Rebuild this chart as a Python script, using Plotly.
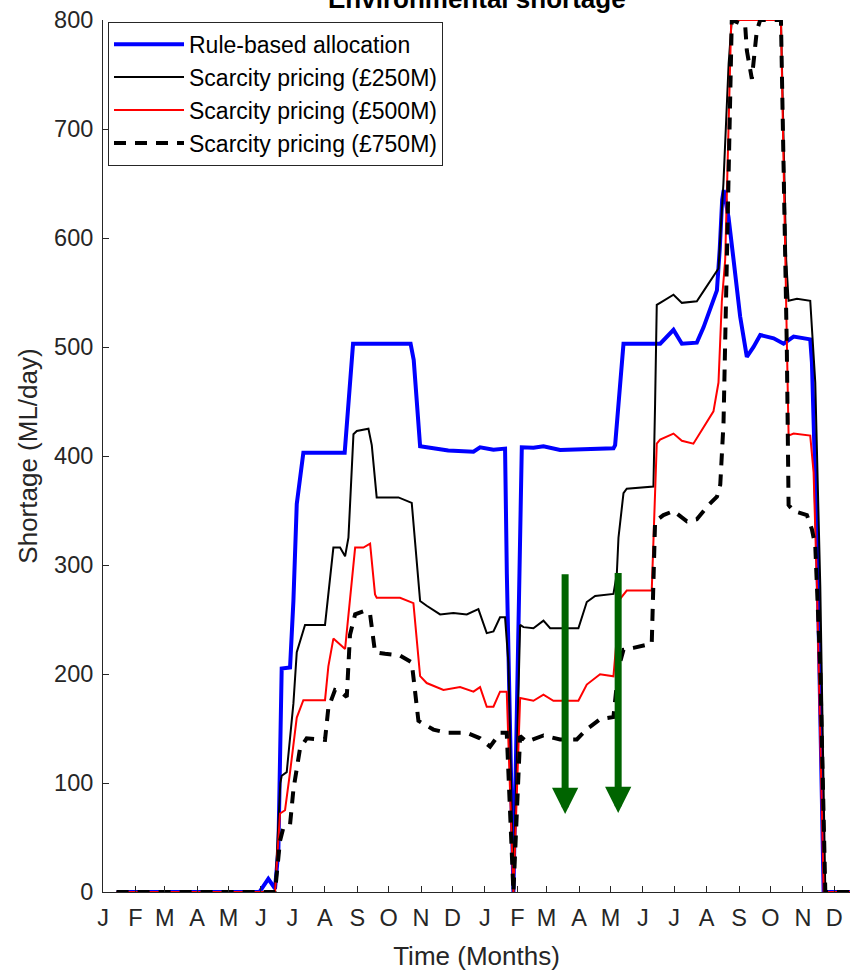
import plotly.graph_objects as go

# ---- Data (x in days from 1 January of year 1, y in ML/day) ----
month_days = [0, 31, 59, 90, 120, 151, 181, 212, 243, 273, 304, 334,
              365, 396, 424, 455, 485, 516, 546, 577, 608, 638, 669, 699]
month_labels = ["J", "F", "M", "A", "M", "J", "J", "A", "S", "O", "N", "D",
                "J", "F", "M", "A", "M", "J", "J", "A", "S", "O", "N", "D"]
y_ticks = [0, 100, 200, 300, 400, 500, 600, 700, 800]

rule_x = [13, 149.5, 158, 161.2, 164.4, 167.6, 170.8, 178.8, 182, 185.2, 191.5, 231, 235, 239,
          294, 297, 303.1, 330, 354.1, 360.4, 373.2, 384.3, 386, 392.3, 397.1, 400.3, 411.4,
          421, 436.9, 487.9, 489.5, 494.3, 497.5, 532.6, 545.3, 553.3, 567.6, 574, 580.4,
          586.8, 589.5, 591.8, 593.3, 597.9, 602.7, 609, 615.4, 621.8, 628.2, 641, 650.5,
          660.1, 676, 677.6, 682.4, 688.8, 714]
rule_y = [0, 0, 12, 8, 3, 38, 205, 206, 267, 356, 403, 403, 450, 503,
          503, 488, 409, 405, 404, 408, 405.7, 406.8, 292, 0, 243, 408, 407.5,
          409, 405.5, 407, 410, 467, 503, 503, 515.7, 503, 504, 518, 535,
          552, 590, 635, 644, 619, 580, 528, 491, 500, 511, 508, 503,
          509.5, 507, 486, 325, 0, 0]

p250_x = [13, 164.4, 169.5, 170.8, 175.6, 182, 185.2, 193.1, 212.2, 217, 220.2, 226.6, 231.4,
          234.6, 239.4, 242.6, 253.7, 256.9, 261.6, 282.4, 290.3, 295.1, 303.1, 309.4, 322.2,
          334.9, 347.7, 358.8, 366.8, 373.2, 379.5, 384.3, 387.5, 392.3, 398.7, 401.9, 411.4,
          421, 427.4, 454.4, 462.4, 470.4, 487.9, 491.1, 492.7, 497.5, 500.6, 526.1, 527.7,
          529.3, 532.5, 545.3, 553.3, 567.6, 575.6, 583.5, 588.3, 593, 598, 601, 648, 653,
          655.3, 663.3, 676, 680.8, 685.6, 690.4, 714]
p250_y = [0, 0, 100, 106.6, 110, 173, 220, 245, 245, 286, 316, 316, 308,
          325, 420, 423, 425, 410, 362, 362, 359, 357, 267, 262.6, 254.7,
          256, 254.7, 259.5, 237.5, 239, 252, 252, 210, 0, 245, 243, 242,
          249, 242, 242, 266, 271.6, 273.5, 291.5, 325, 366, 370, 372, 448,
          538.6, 540.5, 548, 540.5, 542, 553.6, 564.8, 572, 650, 760, 800, 800, 580,
          542.4, 544.2, 542.4, 467.5, 280, 0, 0]

p500_x = [13, 164.4, 169.2, 174, 178.8, 185.2, 191.5, 212.2, 215.4, 220.2, 231.4, 236.1, 241,
          248.9, 255.3, 260, 261.6, 283.9, 296.7, 303.1, 309.4, 325.4, 341.3, 354.1, 360.4,
          366.8, 373.2, 379.5, 385.9, 392.3, 398.7, 411.4, 421, 430.5, 454.4, 462.4, 475.1,
          487.9, 494.3, 500.6, 524.5, 529.3, 532.5, 545.3, 553.3, 564.3, 574, 583.5, 588.3,
          591.5, 594.7, 600.5, 648, 653.6, 655.3, 660.1, 676, 679.2, 682.4, 688.8, 714]
p500_y = [0, 0, 72, 75, 110, 160, 176, 176, 207, 232.5, 223, 267, 316,
          316, 319.5, 273, 270, 270, 265, 198, 191.7, 185.4, 188, 183.8, 188,
          170, 170, 183.8, 183.8, 0, 178, 175.4, 181, 175.4, 175.4, 190.3, 199.7,
          197.9, 269, 276.5, 276.5, 411.3, 415, 420.6, 414, 411.3, 426.2, 441, 467.4,
          542, 580, 800, 800, 512, 418.7, 420.6, 418.7, 385, 280, 0, 0]

p750_x = [13, 164.4, 169.2, 172.4, 178.8, 182, 188.3, 194.7, 212.2, 215.4, 221.8, 226.6, 233,
          236.1, 241, 250.5, 255.3, 260, 269.6, 283.9, 295.1, 301.5, 315.8, 328.6, 347.7,
          360.4, 370, 379.5, 385.9, 387.5, 392.3, 398.7, 405, 421, 436.9, 452.9, 462.4, 475.1,
          487.9, 492.7, 497.5, 507, 524.5, 527.7, 535.7, 545.3, 558.1, 567.6, 578.7, 586.8,
          590, 593.1, 596.4, 601, 613.8, 615.4, 620.2, 624.9, 628.2, 648, 653.6, 655.3,
          660.1, 672.8, 677.6, 680.8, 685.6, 690.4, 714]
p750_y = [0, 0, 47, 59, 62, 94, 131.5, 141, 139.5, 169, 185.4, 184, 179,
          236, 254.7, 258, 254.7, 220, 218.5, 216.9, 210.6, 157, 149, 146, 146,
          141, 133.4, 146, 146, 110, 0, 143, 138, 143.6, 140, 140, 149.3, 158.6,
          160.5, 205.4, 222.2, 224, 227.8, 340, 345.8, 349.5, 340, 342, 355, 362.6,
          373.8, 430, 580, 800, 795, 772, 746, 790, 800, 800, 500, 355,
          349.5, 345.8, 332.7, 317.8, 205, 0, 0]

arrow_x = [441.7, 492.4]
arrow_top = [293, 294]
arrow_tip = [71.5, 72.5]

# ---- Figure ----
FONT = "Liberation Sans, Arial, Helvetica, sans-serif"
AXC = "#262626"

fig = go.Figure()
fig.add_trace(go.Scatter(x=rule_x, y=rule_y, mode="lines", name="Rule-based allocation",
                         line=dict(color="rgb(0,0,255)", width=4)))
fig.add_trace(go.Scatter(x=p250_x, y=p250_y, mode="lines", name="Scarcity pricing (£250M)",
                         line=dict(color="black", width=2)))
fig.add_trace(go.Scatter(x=p500_x, y=p500_y, mode="lines", name="Scarcity pricing (£500M)",
                         line=dict(color="rgb(255,0,0)", width=2)))
fig.add_trace(go.Scatter(x=p750_x, y=p750_y, mode="lines", name="Scarcity pricing (£750M)",
                         line=dict(color="black", width=4, dash="12px,9px")))

for xa, yt, yb in zip(arrow_x, arrow_top, arrow_tip):
    fig.add_annotation(x=xa, y=yb, ax=xa, ay=yt, xref="x", yref="y", axref="x", ayref="y",
                       text="", showarrow=True, arrowhead=2, arrowsize=0.75, arrowwidth=7,
                       arrowcolor="rgb(0,100,0)", standoff=0)

fig.add_annotation(text="<b>Environmental shortage</b>", x=0.5, y=1, xref="paper", yref="paper",
                   xanchor="center", yanchor="bottom", yshift=4, showarrow=False,
                   font=dict(family=FONT, size=26, color="black"))

fig.update_layout(
    width=850, height=971,
    margin=dict(l=103, r=0, t=20, b=79, autoexpand=False),
    paper_bgcolor="white", plot_bgcolor="white",
    font=dict(family=FONT, color=AXC),
    showlegend=True,
    legend=dict(x=0.0067, y=0.998, xanchor="left", yanchor="top",
                bgcolor="white", bordercolor=AXC, borderwidth=1,
                font=dict(family=FONT, size=23, color="black"),
                itemwidth=70, tracegroupgap=0),
)
fig.update_xaxes(range=[0, 714], tickmode="array", tickvals=month_days, ticktext=month_labels,
                 ticks="inside", ticklen=6, tickcolor=AXC, showline=True, linecolor=AXC,
                 linewidth=1, showgrid=False, zeroline=False, automargin=False,
                 tickfont=dict(family=FONT, size=23.5, color=AXC), ticklabelstandoff=5,
                 title=dict(text="Time (Months)", font=dict(family=FONT, size=26, color=AXC),
                            standoff=20))
fig.update_yaxes(range=[0, 800], tickmode="array", tickvals=y_ticks,
                 ticks="inside", ticklen=6, tickcolor=AXC, showline=True, linecolor=AXC,
                 linewidth=1, showgrid=False, zeroline=False, automargin=False,
                 tickfont=dict(family=FONT, size=23.5, color=AXC), ticklabelstandoff=4,
                 title=dict(text="Shortage (ML/day)", font=dict(family=FONT, size=26, color=AXC),
                            standoff=8))

fig.write_html("out.html", config={"displayModeBar": False},
               post_script="document.body.style.margin='0';")
